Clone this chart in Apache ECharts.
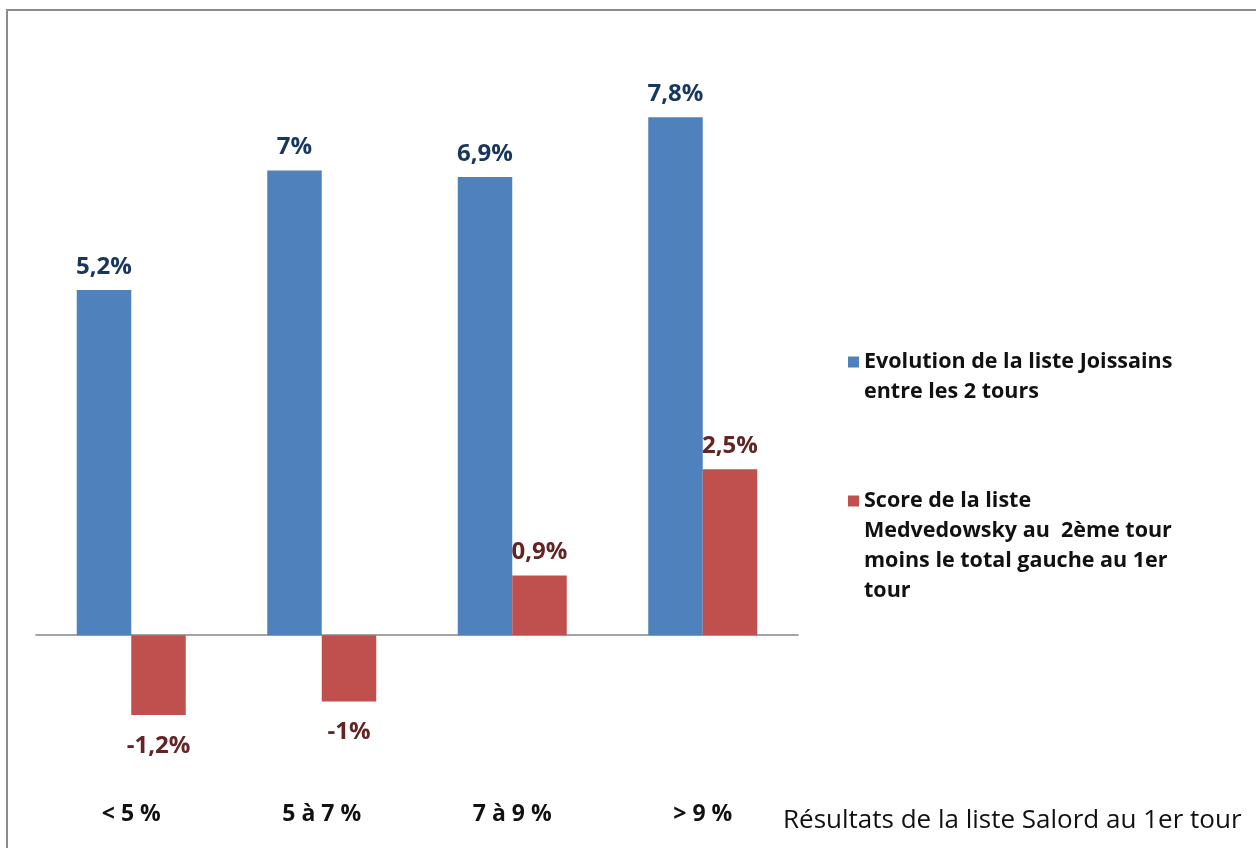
<!DOCTYPE html>
<html><head><meta charset="utf-8">
<script src="https://cdn.jsdelivr.net/npm/echarts@6/dist/echarts.min.js"></script>
<style>html,body{margin:0;padding:0;background:#fff}#c{width:1256px;height:848px}</style>
</head><body><div id="c"></div>
<script>
var categories = ['< 5 %', '5 à 7 %', '7 à 9 %', '> 9 %'];
var joissains = [5.2, 7.0, 6.9, 7.8];
var medvedowsky = [-1.2, -1.0, 0.9, 2.5];
var seriesNames = ['Evolution de la liste Joissains\nentre les 2 tours',
  'Score de la liste\nMedvedowsky au  2ème tour\nmoins le total gauche au 1er\ntour'];
var axisName = 'Résultats de la liste Salord au 1er tour';

function fmt(v){ return String(v).replace('.', ',') + '%'; }
function mk(vals){
  return vals.map(function(v){
    return {value: v, label: v < 0 ? {position: 'bottom', distance: 19} : {position: 'top', distance: 11}};
  });
}
var FONT = 'Open Sans';
var LH = 30;
// legend icon: a square aligned with the first text line, inside a box as tall as the text block
function iconFor(name){
  var h = name.split('\n').length * LH;
  return {h: h, path: 'path://M0,9.5H11V20.5H0Z M0,0L0,' + h};
}
function legendFor(i, top){
  var ic = iconFor(seriesNames[i]);
  return {data: [seriesNames[i]], orient: 'vertical', left: 843, top: top,
    itemWidth: 11, itemHeight: ic.h, itemGap: 9, icon: ic.path,
    itemStyle: {borderWidth: 0},
    textStyle: {fontFamily: FONT, fontWeight: 'bold', fontSize: 21.5, color: '#111', lineHeight: LH}};
}
var chart = echarts.init(document.getElementById('c'));
chart.setOption({
  animation: false,
  textStyle: {fontFamily: FONT},
  graphic: [{type: 'rect', shape: {x: 7, y: 10, width: 1400, height: 1000},
    style: {fill: 'none', stroke: '#8c8c8c', lineWidth: 2}, silent: true}],
  grid: {left: 36, right: 458, top: 104, bottom: 80, containLabel: false, outerBoundsMode: 'none'},
  legend: [legendFor(0, 342), legendFor(1, 481)],
  xAxis: [
    {type: 'category', data: categories, position: 'bottom',
     axisLine: {onZero: true, lineStyle: {color: '#868686', width: 1.5}},
     axisTick: {show: false}, axisLabel: {show: false}},
    {type: 'category', data: categories, position: 'bottom',
     axisLine: {show: false, onZero: false}, axisTick: {show: false},
     axisLabel: {margin: 35, fontFamily: FONT, fontWeight: 'bold', fontSize: 23, color: '#111'},
     name: axisName, nameLocation: 'end', nameGap: -15,
     nameTextStyle: {fontFamily: FONT, fontSize: 26, color: '#111', align: 'left', verticalAlign: 'top', lineHeight: 106}}
  ],
  yAxis: {type: 'value', min: -2, max: 8, show: false, splitLine: {show: false}},
  series: [
    {name: seriesNames[0], type: 'bar', data: mk(joissains), barWidth: 54.5, barGap: '0%',
     itemStyle: {color: '#4F81BD'},
     label: {show: true, fontFamily: FONT, fontWeight: 'bold', fontSize: 24, color: '#17375E',
       formatter: function(p){ return fmt(p.value); }}},
    {name: seriesNames[1], type: 'bar', data: mk(medvedowsky), barWidth: 54.5, barGap: '0%',
     itemStyle: {color: '#C0504D'},
     label: {show: true, fontFamily: FONT, fontWeight: 'bold', fontSize: 24, color: '#632423',
       formatter: function(p){ return fmt(p.value); }}}
  ]
});
</script></body></html>
